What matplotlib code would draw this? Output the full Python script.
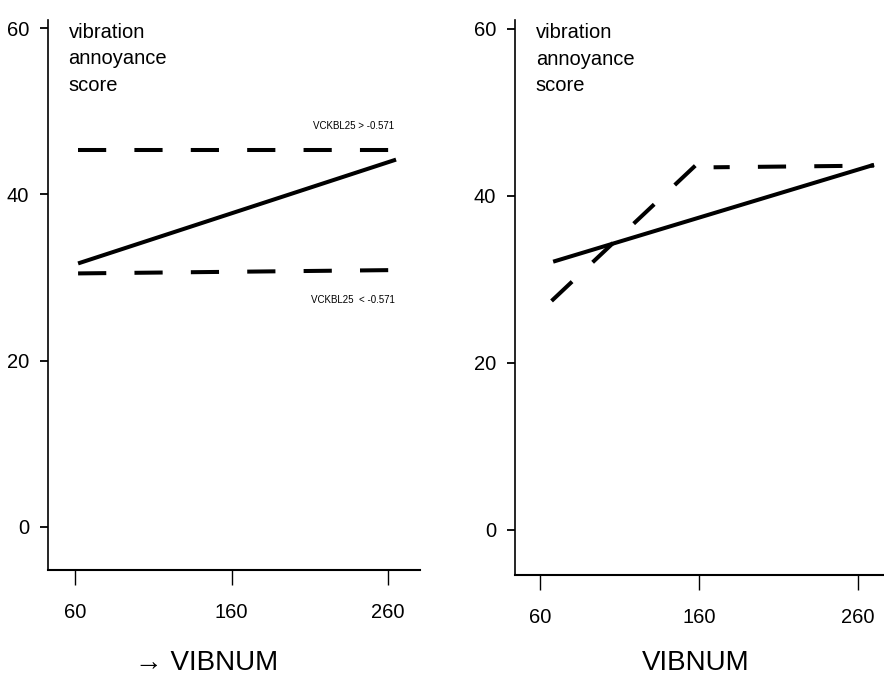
import numpy as np
import matplotlib.pyplot as plt

plt.rcParams['font.family'] = ['Liberation Sans', 'DejaVu Sans']

# left panel data
left_solid_x = [62, 265]
left_solid_y = [31.7, 44.2]
left_high_x = [62, 263]
left_high_y = [45.3, 45.3]
left_low_x = [62, 263]
left_low_y = [30.5, 30.9]

# right panel data
right_solid_x = [68, 270]
right_solid_y = [32.1, 43.7]
right_rise_x = [67, 167]
right_rise_y = [27.4, 45.3]
right_flat_x = [169, 270]
right_flat_y = [43.4, 43.6]

xticks = [60, 160, 260]
yticks = [0, 20, 40, 60]

fig = plt.figure(figsize=(8.84, 6.84), dpi=100)
ax1 = fig.add_axes([0.0543, 0.1667, 0.421, 0.804])
ax2 = fig.add_axes([0.5826, 0.1594, 0.425, 0.811])

dash = (0, (7, 7))
lw = 2.9

ax1.plot(left_solid_x, left_solid_y, color='black', lw=lw, solid_capstyle='butt')
ax1.plot(left_high_x, left_high_y, color='black', lw=lw, linestyle=dash, dash_capstyle='butt')
ax1.plot(left_low_x, left_low_y, color='black', lw=lw, linestyle=dash, dash_capstyle='butt')
ax1.text(264, 48.3, 'VCKBL25 > -0.571', fontsize=7, ha='right', va='center')
ax1.text(264, 27.3, 'VCKBL25  < -0.571', fontsize=7, ha='right', va='center')
ax1.set_xlim(42.8, 280.4)
ax1.set_ylim(-5.2, 61)

ax2.plot(right_solid_x, right_solid_y, color='black', lw=lw, solid_capstyle='butt')
ax2.plot(right_rise_x, right_rise_y, color='black', lw=lw, linestyle=dash, dash_capstyle='butt')
ax2.plot(right_flat_x, right_flat_y, color='black', lw=lw, linestyle=(3, (7, 7)), dash_capstyle='butt')
ax2.set_xlim(44, 280.5)
ax2.set_ylim(-5.4, 61)

for ax in (ax1, ax2):
    ax.spines['top'].set_visible(False)
    ax.spines['right'].set_visible(False)
    ax.spines['left'].set_linewidth(1.2)
    ax.spines['bottom'].set_linewidth(1.5)
    ax.set_xticks(xticks)
    ax.set_yticks(yticks)
    ax.tick_params(axis='x', length=11, width=1, pad=13, labelsize=14.5)
    ax.tick_params(axis='y', length=5.5, width=1.3, pad=8, labelsize=14.5)
    ax.text(0.055, 0.995, 'vibration\nannoyance\nscore', transform=ax.transAxes,
            fontsize=14.5, va='top', ha='left', linespacing=1.5)

fig.text(0.234, 0.012, '\u2192 VIBNUM', fontsize=20, ha='center', va='bottom',
         family=['Liberation Sans', 'DejaVu Sans'])
fig.text(0.787, 0.012, 'VIBNUM', fontsize=20, ha='center', va='bottom')

fig.savefig('out.png', dpi=100)
